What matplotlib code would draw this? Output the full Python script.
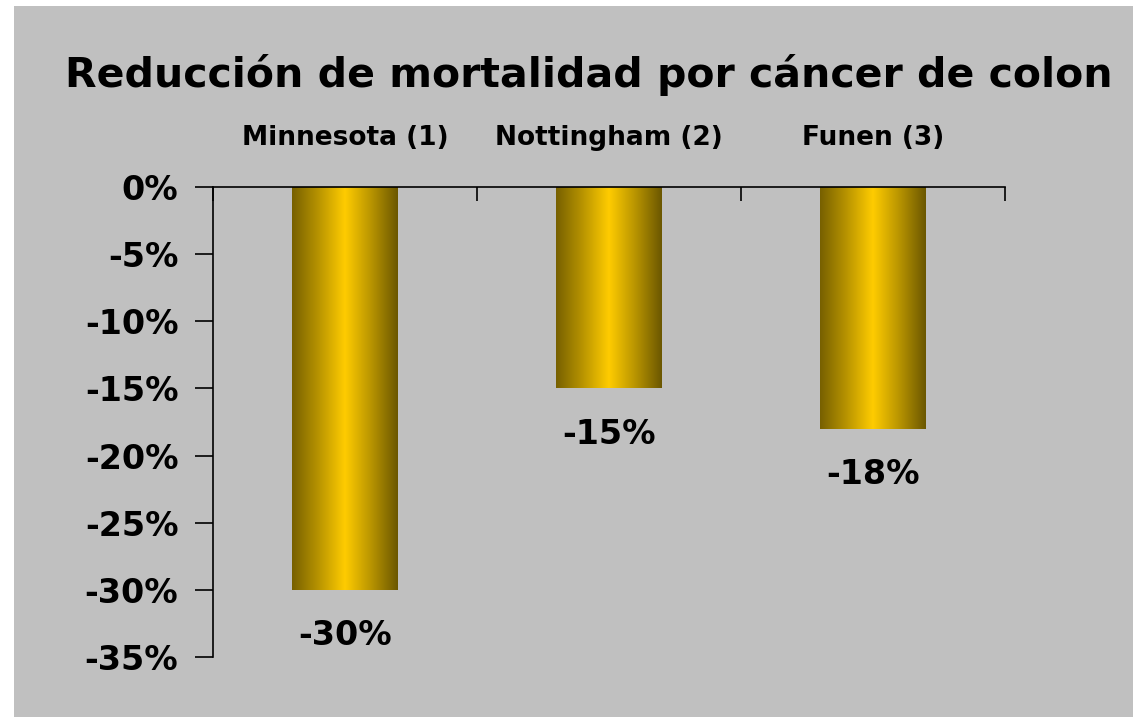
import matplotlib
matplotlib.use("Agg")
import matplotlib.pyplot as plt
import numpy as np
from matplotlib.colors import LinearSegmentedColormap
from matplotlib.patches import Rectangle

title = "Reducción de mortalidad por cáncer de colon"
categories = ["Minnesota (1)", "Nottingham (2)", "Funen (3)"]
values = [-30, -15, -18]
yticks = [0, -5, -10, -15, -20, -25, -30, -35]

plt.rcParams['font.family'] = ['DejaVu Sans']
plt.rcParams['font.weight'] = 'bold'

fig = plt.figure(figsize=(11.33, 7.17), dpi=100)
fig.patch.set_facecolor('white')
# gray panel with a thin white margin at left and top
fig.patches.append(Rectangle((14 / 1133, 0), 1, 1 - 6 / 717, transform=fig.transFigure,
                             facecolor='#c0c0c0', edgecolor='none', zorder=-5))

ax = fig.add_axes([213 / 1133, 60 / 717, 792 / 1133, 470 / 717])
ax.set_facecolor('none')
ax.set_zorder(1)

x = np.arange(len(categories))
bars = ax.bar(x, values, width=0.4, color='none', edgecolor='none')

# horizontal gold shading: dark edges, bright centre
cmap = LinearSegmentedColormap.from_list('gold', ['#776000', '#b89400', '#ffcc00', '#b89400', '#6b5700'])
grad = np.linspace(0, 1, 256).reshape(1, -1)
for b in bars:
    x0, w = b.get_x(), b.get_width()
    y0, h = b.get_y(), b.get_height()
    im = ax.imshow(grad, cmap=cmap, aspect='auto', extent=(x0, x0 + w, y0 + h, y0), zorder=2)
    im.set_clip_path(b)

ax.set_xlim(-0.5, len(categories) - 0.5)
ax.set_ylim(-35, 0)

ax.spines['right'].set_visible(False)
ax.spines['bottom'].set_visible(False)
ax.spines['left'].set_linewidth(1.2)
ax.spines['top'].set_linewidth(1.2)

ax.set_yticks(yticks)
ax.set_yticklabels([f"{v}%" for v in yticks], fontsize=24, fontweight='bold')
ax.tick_params(axis='y', direction='out', length=13, width=1.2, pad=12)

ax.xaxis.tick_top()
ax.set_xticks(np.arange(-0.5, len(categories), 1.0))
ax.set_xticklabels([])
ax.tick_params(axis='x', direction='in', length=10, width=1.2)

for xi, name in zip(x, categories):
    ax.annotate(name, (xi, 0), xytext=(0, 35), textcoords='offset points',
                ha='center', va='center', fontsize=19, fontweight='bold')

for xi, v in zip(x, values):
    ax.annotate(f"{v}%", (xi, v), xytext=(0, -33), textcoords='offset points',
                ha='center', va='center', fontsize=24, fontweight='bold')

fig.text(589 / 1133, 1 - 75 / 717, title, ha='center', va='center', fontsize=29.5, fontweight='bold')

fig.savefig('out.png', dpi=100)
